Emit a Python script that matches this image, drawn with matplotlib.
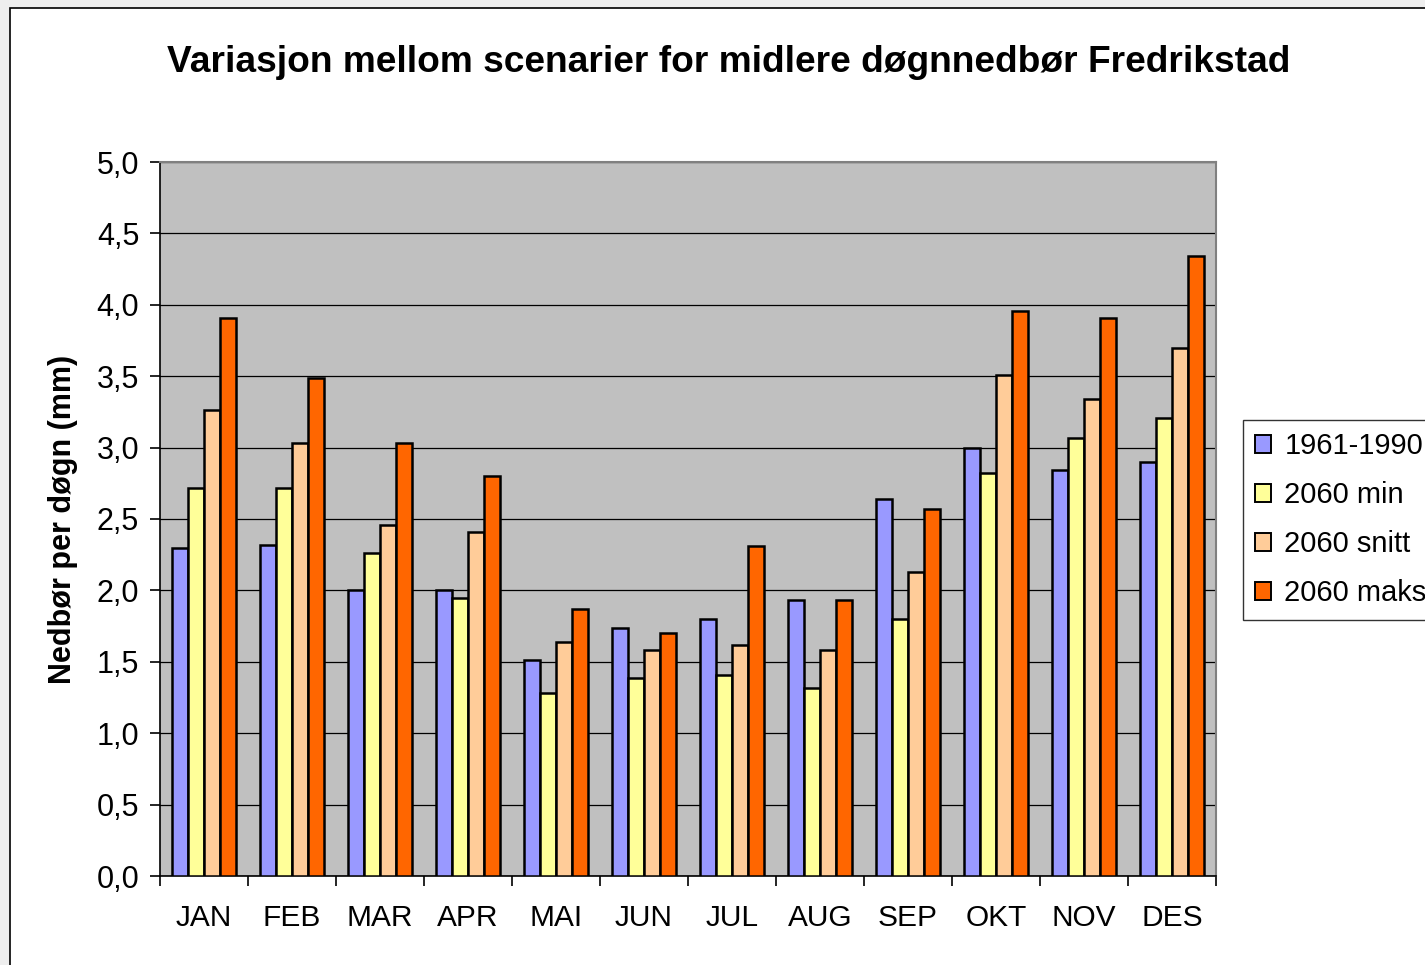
import matplotlib.pyplot as plt
import numpy as np
from matplotlib.patches import Rectangle
from matplotlib.ticker import FuncFormatter

plt.rcParams['font.family'] = ['Liberation Sans', 'DejaVu Sans']

months = ['JAN', 'FEB', 'MAR', 'APR', 'MAI', 'JUN', 'JUL', 'AUG', 'SEP', 'OKT', 'NOV', 'DES']
series_names = ['1961-1990', '2060 min', '2060 snitt', '2060 maks']
v_1961_1990 = [2.30, 2.32, 2.00, 2.00, 1.51, 1.74, 1.80, 1.93, 2.64, 3.00, 2.84, 2.90]
v_2060_min = [2.72, 2.72, 2.26, 1.95, 1.28, 1.39, 1.41, 1.32, 1.80, 2.82, 3.07, 3.21]
v_2060_snitt = [3.26, 3.03, 2.46, 2.41, 1.64, 1.58, 1.62, 1.58, 2.13, 3.51, 3.34, 3.70]
v_2060_maks = [3.91, 3.49, 3.03, 2.80, 1.87, 1.70, 2.31, 1.93, 2.57, 3.96, 3.91, 4.34]
colors = ['#9999FF', '#FFFF99', '#FFCC99', '#FF6600']

fig = plt.figure(figsize=(14.25, 9.65), dpi=100)
fig.patch.set_facecolor('#EEEEEE')
# outer chart border
fig.patches.append(Rectangle((10 / 1425, -0.05), 1.1, 1.05 - 8 / 965,
                             transform=fig.transFigure, facecolor='white',
                             edgecolor='black', linewidth=1.2, zorder=-10))

ax = fig.add_axes([160 / 1425, 89 / 965, 1056 / 1425, 714 / 965])
ax.set_facecolor('#C0C0C0')

x = np.arange(len(months))
w = 0.182
all_series = [v_1961_1990, v_2060_min, v_2060_snitt, v_2060_maks]
for i, (vals, name, c) in enumerate(zip(all_series, series_names, colors)):
    ax.bar(x + (i - 1.5) * w, vals, width=w, color=c, edgecolor='black',
           linewidth=1.8, label=name, zorder=3)

ax.set_xlim(-0.5, len(months) - 0.5)
ax.set_ylim(0, 5)
ax.set_yticks(np.arange(0, 5.01, 0.5))
ax.yaxis.set_major_formatter(FuncFormatter(lambda v, p: f"{v:.1f}".replace('.', ',')))
ax.grid(axis='y', color='black', linewidth=0.9, zorder=1)

ax.set_xticks(x)
ax.set_xticklabels(months)
ax.set_xticks(np.arange(-0.5, len(months), 1), minor=True)
ax.tick_params(axis='x', which='major', length=0, pad=20, labelsize=21.5)
ax.tick_params(axis='x', which='minor', length=7, width=1.2, direction='out')
ax.tick_params(axis='y', length=7, width=1.2, pad=8, labelsize=22)

for s in ['top', 'right']:
    ax.spines[s].set_color('#808080')
    ax.spines[s].set_linewidth(1.5)
for s in ['left', 'bottom']:
    ax.spines[s].set_color('black')
    ax.spines[s].set_linewidth(1.2)

ax.set_ylabel('Nedbør per døgn (mm)', fontsize=22, fontweight='bold', labelpad=13)
fig.text(729 / 1425, 1 - 62 / 965, 'Variasjon mellom scenarier for midlere døgnnedbør Fredrikstad',
         ha='center', va='center', fontsize=26.7, fontweight='bold')

leg = fig.legend(loc='upper left', bbox_to_anchor=(1243 / 1425, 1 - 420 / 965),
                 fontsize=21, frameon=True, fancybox=False, handlelength=0.55,
                 handleheight=0.55, handletextpad=0.45, labelspacing=0.72,
                 borderpad=0.42, borderaxespad=0)
leg.get_frame().set_edgecolor('black')
leg.get_frame().set_linewidth(1.0)
for h in leg.legend_handles:
    h.set_linewidth(1.4)

plt.savefig('out.png', dpi=100)
